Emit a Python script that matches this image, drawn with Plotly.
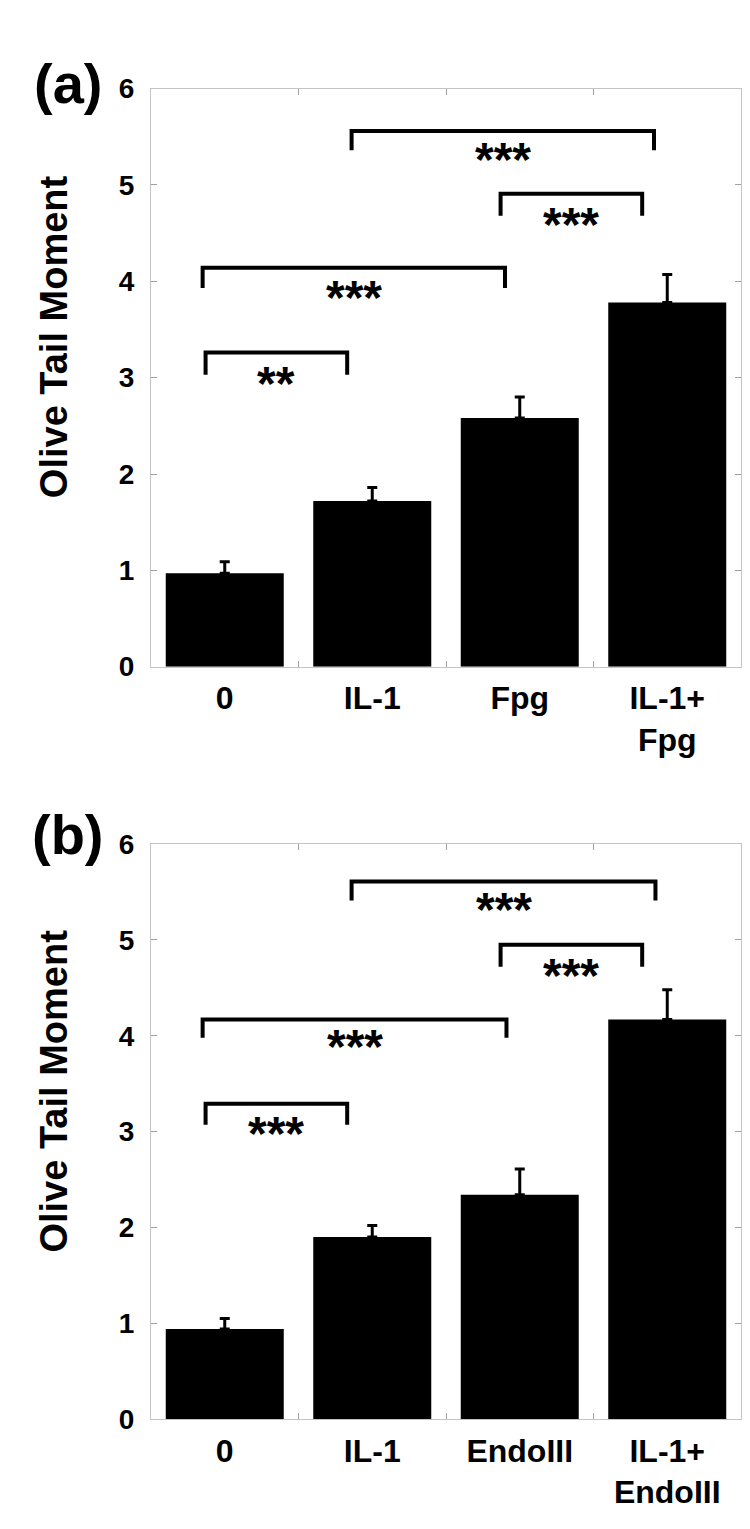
import plotly.graph_objects as go

# panel (a)
labels_a = ["0", "IL-1", "Fpg", "IL-1+<br>Fpg"]
means_a = [0.97, 1.72, 2.58, 3.78]
errs_a = [0.12, 0.14, 0.22, 0.29]

# panel (b)
labels_b = ["0", "IL-1", "EndoIII", "IL-1+<br>EndoIII"]
means_b = [0.94, 1.90, 2.34, 4.17]
errs_b = [0.11, 0.12, 0.27, 0.31]

# significance brackets: left x, right x, top y, leg y, stars
brackets_a = [
    (0.86, 2.91, 5.56, 5.36, "***"),
    (1.87, 2.83, 4.91, 4.68, "***"),
    (-0.15, 1.90, 4.14, 3.93, "***"),
    (-0.13, 0.83, 3.26, 3.03, "**"),
]
brackets_b = [
    (0.86, 2.92, 5.61, 5.41, "***"),
    (1.87, 2.83, 4.95, 4.72, "***"),
    (-0.15, 1.91, 4.17, 3.98, "***"),
    (-0.13, 0.83, 3.29, 3.07, "***"),
]

FONT = "Liberation Sans, Arial, sans-serif"
W, H = 750, 1529

fig = go.Figure()


def add_panel(labels, means, errs, brackets, xa, ya):
    xs = list(range(len(labels)))
    fig.add_trace(go.Bar(x=xs, y=means, width=0.8,
                         marker=dict(color="black", line=dict(width=0)),
                         error_y=dict(type="data", symmetric=False, array=errs,
                                      arrayminus=[0] * len(errs),
                                      color="black", thickness=3, width=5),
                         xaxis=xa, yaxis=ya, showlegend=False))
    for x0, x1, top, leg, stars in brackets:
        fig.add_trace(go.Scatter(x=[x0, x0, x1, x1], y=[leg, top, top, leg],
                                 mode="lines", line=dict(color="black", width=4),
                                 xaxis=xa, yaxis=ya, showlegend=False,
                                 hoverinfo="skip"))
        fig.add_annotation(x=(x0 + x1) / 2, y=leg, xref=xa, yref=ya,
                           text=stars, showarrow=False, yshift=-9,
                           font=dict(family=FONT, size=48, color="black",
                                     weight="bold"))


add_panel(labels_a, means_a, errs_a, brackets_a, "x", "y")
add_panel(labels_b, means_b, errs_b, brackets_b, "x2", "y2")

frame = "#c4c4c4"
tickc = "#a0a0a0"


def xaxis_style(labels, anchor):
    return dict(range=[-0.5, 3.5], anchor=anchor,
                tickmode="array", tickvals=list(range(len(labels))),
                ticktext=labels, ticks="",
                minor=dict(tickmode="array", tickvals=[0.5, 1.5, 2.5],
                           ticks="inside", ticklen=6, tickcolor=tickc),
                showline=True, linecolor=frame, linewidth=1, mirror="ticks",
                showgrid=False, zeroline=False, ticklabelstandoff=3,
                tickfont=dict(family=FONT, size=32, color="black", weight="bold"))


def yaxis_style(domain, anchor):
    return dict(range=[0, 6], domain=domain, anchor=anchor,
                tickmode="linear", tick0=0, dtick=1,
                ticks="inside", ticklen=6, tickcolor=tickc,
                showline=True, linecolor=frame, linewidth=1, mirror="ticks",
                showgrid=False, zeroline=False, ticklabelstandoff=10,
                tickfont=dict(family=FONT, size=28, color="black", weight="bold"))


fig.update_layout(
    width=W, height=H,
    margin=dict(l=143, r=17, t=0, b=0),
    plot_bgcolor="white", paper_bgcolor="white",
    barmode="overlay",
    xaxis=xaxis_style(labels_a, "y"),
    yaxis=yaxis_style([1 - 657 / H, 1 - 67 / H], "x"),
    xaxis2=xaxis_style(labels_b, "y2"),
    yaxis2=yaxis_style([1 - 1425 / H, 1 - 838 / H], "x2"),
)

# panel letters and y titles
for letter, ytop, ymid in [("(a)", 1 - 28 / H, 1 - 320 / H),
                           ("(b)", 1 - 794 / H, 1 - 1090 / H)]:
    fig.add_annotation(x=-0.14, y=ytop, xref="paper", yref="paper",
                       xanchor="center", yanchor="top", showarrow=False,
                       text=letter,
                       font=dict(family=FONT, size=56, color="black", weight="bold"))
    fig.add_annotation(x=-0.165, y=ymid, xref="paper", yref="paper",
                       xanchor="center", yanchor="middle", showarrow=False,
                       text="Olive Tail Moment", textangle=-90,
                       font=dict(family=FONT, size=38, color="black", weight="bold"))

fig.write_html("out.html")
